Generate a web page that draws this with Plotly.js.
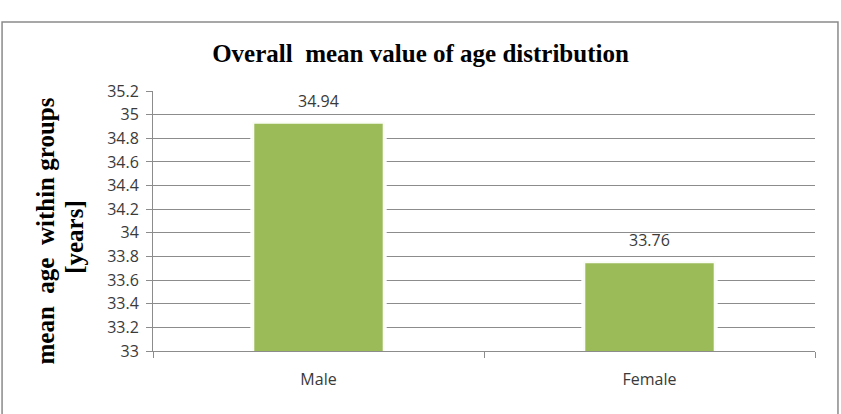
<!DOCTYPE html>
<html>
<head>
<meta charset="utf-8">
<script src="https://cdn.plot.ly/plotly-3.0.1.min.js"></script>
<style>
  html, body { margin: 0; padding: 0; background: #ffffff; }
  #chart { width: 841px; height: 414px; }
</style>
</head>
<body>
<div id="chart"></div>
<script>
// Mean age per group
const groups = ["Male", "Female"];
const meanAge = [34.94, 33.76];
const valueLabels = ["34.94", "33.76"];
const yTicks = [33, 33.2, 33.4, 33.6, 33.8, 34, 34.2, 34.4, 34.6, 34.8, 35, 35.2];
const yTitleLines = ["mean  age  within groups", "[years]"];

const gridColor = "#8c8c8c";
const sansFamily = "Open Sans, Liberation Sans, sans-serif";
const serifFamily = "Liberation Serif, Times New Roman, serif";
const tickFont = { family: sansFamily, size: 16, color: "#3a3a3a" };

const bars = {
  type: "bar",
  x: groups,
  y: meanAge,
  marker: {
    color: "#9bbb59",
    line: { color: "rgba(255,255,255,0.95)", width: 4 }
  },
  width: 0.40,
  hoverinfo: "x+y"
};

// Value labels placed just above each bar top
const valueNotes = groups.map((g, i) => ({
  text: valueLabels[i],
  x: g, y: meanAge[i],
  xref: "x", yref: "y",
  yanchor: "middle", yshift: 21,
  showarrow: false,
  font: { family: sansFamily, size: 16, color: "#3a3a3a" }
}));

// Chart area frame around the whole figure
const frame = {
  type: "rect", xref: "paper", yref: "paper",
  x0: -0.228, x1: 1.0347, y0: -0.27, y1: 1.265,
  line: { color: "#8a8a8a", width: 1.5 },
  fillcolor: "rgba(0,0,0,0)",
  layer: "below"
};

// Two-line rotated value-axis title
const yTitleFont = { family: serifFamily, size: 25, color: "#000000" };
const yTitle = yTitleLines.map((line, i) => ({
  text: "<b>" + line + "</b>",
  xref: "paper", yref: "paper",
  x: i === 0 ? -0.163 : -0.119,
  y: i === 0 ? 0.46 : 0.44,
  xanchor: "center", yanchor: "middle",
  textangle: -90,
  showarrow: false,
  font: yTitleFont
}));

const layout = {
  width: 841,
  height: 414,
  margin: { l: 153, r: 26, t: 91, b: 63 },
  paper_bgcolor: "#ffffff",
  plot_bgcolor: "#ffffff",
  showlegend: false,
  title: {
    text: "<b>Overall  mean value of age distribution</b>",
    font: { family: serifFamily, size: 25, color: "#000000" },
    x: 0.5, xref: "container", xanchor: "center",
    y: 0.872, yref: "container", yanchor: "middle"
  },
  xaxis: {
    type: "category",
    showgrid: false,
    showline: true,
    linecolor: gridColor,
    linewidth: 1,
    ticks: "outside",
    tickson: "boundaries",
    ticklen: 6,
    tickcolor: gridColor,
    tickfont: tickFont,
    ticklabelstandoff: 14,
    fixedrange: true
  },
  yaxis: {
    range: [33, 35.2],
    tickvals: yTicks,
    ticktext: yTicks.map(v => String(v)),
    showgrid: true,
    gridcolor: gridColor,
    gridwidth: 1,
    showline: true,
    linecolor: gridColor,
    linewidth: 1,
    ticks: "outside",
    ticklen: 6,
    tickcolor: gridColor,
    tickfont: tickFont,
    ticklabelstandoff: 4,
    zeroline: false,
    fixedrange: true
  },
  annotations: yTitle.concat(valueNotes),
  shapes: [frame]
};

Plotly.newPlot("chart", [bars], layout, { displayModeBar: false, staticPlot: true });
</script>
</body>
</html>
